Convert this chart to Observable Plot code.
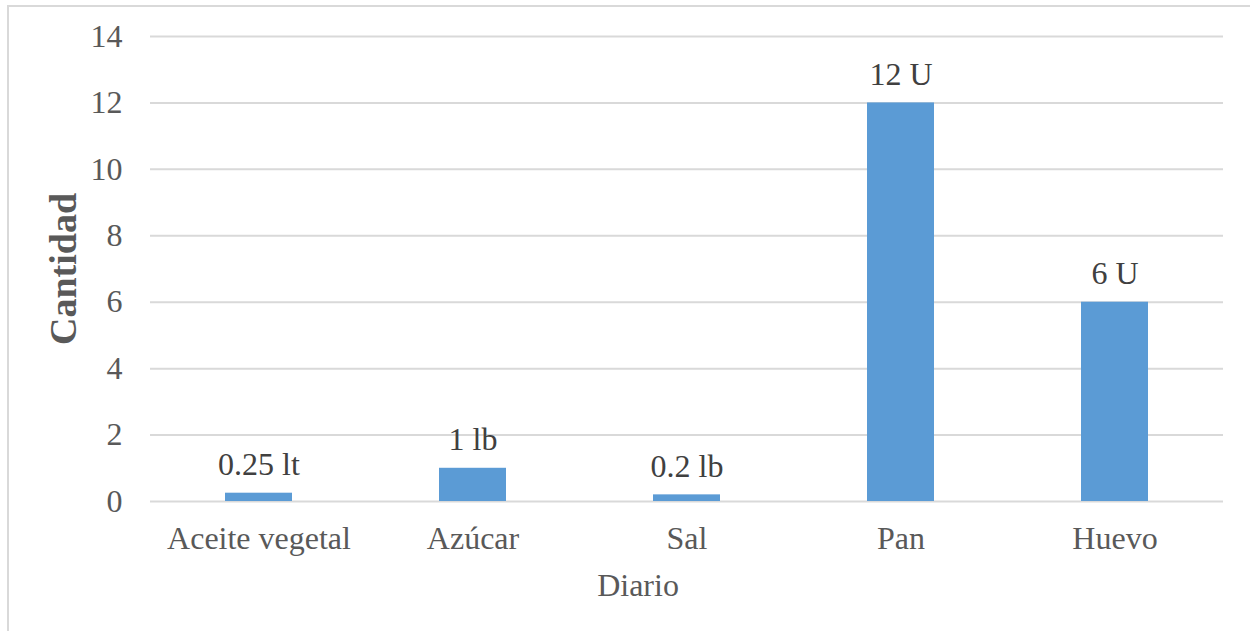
<!DOCTYPE html>
<html>
<head>
<meta charset="utf-8">
<script src="https://cdn.jsdelivr.net/npm/d3@7"></script>
<script src="https://cdn.jsdelivr.net/npm/@observablehq/plot@0.6"></script>
<style>
  html, body { margin: 0; padding: 0; background: #fff; overflow: hidden; }
  #wrap { position: relative; width: 1250px; height: 631px; }
  #border { position: absolute; left: 7px; top: 5px; width: 1400px; height: 800px; border: 2px solid #d9d9d9; box-sizing: border-box; }
  #chart { position: absolute; left: 0; top: 0; }
</style>
</head>
<body>
<div id="wrap"><div id="border"></div><div id="chart"></div></div>
<script>
const categories = ["Aceite vegetal", "Azúcar", "Sal", "Pan", "Huevo"];
const values = [0.25, 1, 0.2, 12, 6];
const valueLabels = ["0.25 lt", "1 lb", "0.2 lb", "12 U", "6 U"];
const yTicks = [0, 2, 4, 6, 8, 10, 12, 14];
const xTitle = "Diario";
const yTitle = "Cantidad";

const data = categories.map((c, i) => ({category: c, value: values[i], label: valueLabels[i]}));

const font = "'Liberation Serif', 'Times New Roman', serif";

const chart = Plot.plot({
  width: 1250,
  height: 631,
  marginLeft: 150,
  marginRight: 27,
  marginTop: 36,
  marginBottom: 130,
  style: {fontFamily: font, fontSize: "32px", background: "transparent"},
  x: {domain: categories, paddingInner: 0.685, paddingOuter: 0.3425, label: null},
  y: {domain: [0, 14], label: null},
  marks: [
    Plot.gridY(yTicks, {stroke: "#d9d9d9", strokeOpacity: 1, strokeWidth: 2}),
    Plot.barY(data, {x: "category", y: "value", fill: "#5b9bd5"}),
    Plot.text(data, {x: "category", y: "value", text: "label", lineAnchor: "bottom", dy: -18, fill: "#404040", fontSize: 32, fontFamily: font}),
    Plot.axisY(yTicks, {tickSize: 0, tickPadding: 28, fill: "#595959", fontSize: 32, fontFamily: font, label: null}),
    Plot.axisX({tickSize: 0, tickPadding: 25, fill: "#595959", fontSize: 32, fontFamily: font, label: null}),
    Plot.text([xTitle], {frameAnchor: "bottom", lineAnchor: "middle", dy: 84, dx: -49, fill: "#595959", fontSize: 32, fontFamily: font}),
    Plot.text([yTitle], {frameAnchor: "left", textAnchor: "middle", lineAnchor: "middle", rotate: -90, dx: -87, fill: "#595959", fontSize: 38, fontWeight: "bold", fontFamily: font})
  ]
});
document.getElementById("chart").appendChild(chart);
</script>
</body>
</html>
